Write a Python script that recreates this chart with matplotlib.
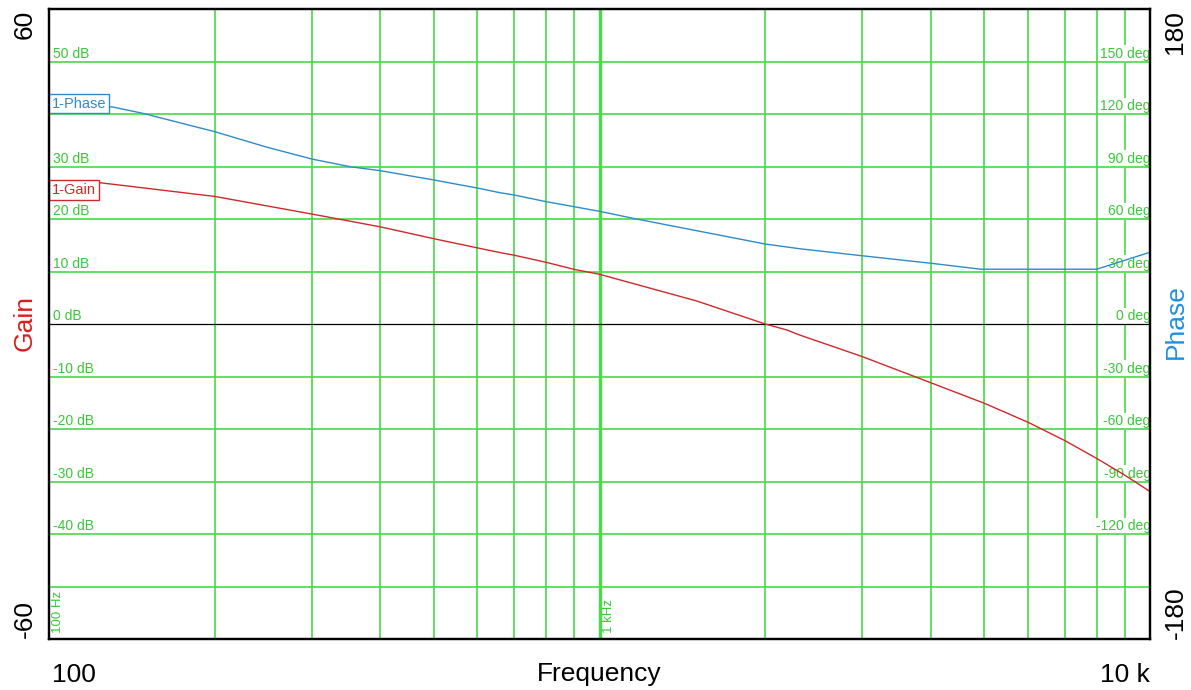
import matplotlib
matplotlib.use('Agg')
import matplotlib.pyplot as plt
from matplotlib import transforms

plt.rcParams['font.family'] = ['Liberation Sans', 'DejaVu Sans']

# ---------------- data ----------------
gain_freq = [100, 124, 200, 300, 400, 500, 600, 660, 700, 800, 900, 1000,
             1500, 2000, 2190, 2310, 3000, 4000, 5000, 6000, 7000, 8000, 9000, 10000]
gain_db = [27.2, 26.9, 24.3, 20.95, 18.5, 16.25, 14.5, 13.6, 13.1, 11.75, 10.4, 9.47,
           4.4, 0.0, -1.14, -2.1, -6.2, -11.2, -15.1, -18.7, -22.2, -25.6, -28.8, -31.9]

phase_freq = [100, 130.5, 148, 200, 249, 300, 352, 400, 500, 600, 660, 700, 800,
              900, 1000, 1150, 2000, 2310, 3000, 4000, 4930, 8000, 10000]
phase_deg = [126.5, 124.0, 120.4, 109.9, 101.0, 94.3, 89.9, 87.6, 82.3, 77.7, 75.0, 73.7, 69.9,
             67.0, 64.4, 60.4, 45.7, 43.0, 39.0, 34.7, 31.3, 31.3, 41.0]

gain_grid = [-50, -40, -30, -20, -10, 10, 20, 30, 40, 50]
freq_grid = [200, 300, 400, 500, 600, 700, 800, 900,
             2000, 3000, 4000, 5000, 6000, 7000, 8000, 9000]
gain_label_vals = [50, 30, 20, 10, 0, -10, -20, -30, -40]
gain_label_txt = ['50 dB', '30 dB', '20 dB', '10 dB', '0 dB', '-10 dB', '-20 dB', '-30 dB', '-40 dB']
phase_label_vals = [150, 120, 90, 60, 30, 0, -30, -60, -90, -120]
phase_label_txt = ['150 deg', '120 deg', '90 deg', '60 deg', '30 deg', '0 deg',
                   '-30 deg', '-60 deg', '-90 deg', '-120 deg']
freq_marks = [100, 1000]
freq_marks_txt = ['100 Hz', '1 kHz']

# ---------------- style ----------------
GRID = '#45DC45'
LBL = '#38C838'
RED = '#D02828'
BLUE = '#2E8BCB'

W, H = 1191, 690
fig = plt.figure(figsize=(W / 100, H / 100), dpi=100)
fig.patch.set_facecolor('white')

def fx(px):
    return px / W

def fy(py):
    return 1 - py / H

ax = fig.add_axes([fx(49), fy(639), (1150 - 49) / W, 630 / H])
ax.set_xscale('log')
ax.set_xlim(100, 10000)
ax.set_ylim(-60, 60)
ax2 = ax.twinx()
ax2.set_ylim(-180, 180)
for a in (ax, ax2):
    a.xaxis.set_major_locator(plt.NullLocator())
    a.xaxis.set_minor_locator(plt.NullLocator())
    a.yaxis.set_major_locator(plt.NullLocator())
    a.yaxis.set_minor_locator(plt.NullLocator())
    a.tick_params(which='both', length=0, labelleft=False, labelright=False, labelbottom=False)
    for s in a.spines.values():
        s.set_linewidth(1.6)
        s.set_color('black')
        s.set_zorder(10)

# vertical grid
for f in freq_grid:
    ax.axvline(f, color=GRID, lw=1.2, zorder=1)
ax.axvline(1000, color=GRID, lw=2.4, zorder=1)

# labels on grid (white background)
bb = dict(boxstyle='square,pad=0.12', fc='white', ec='none')
left_tr = transforms.offset_copy(ax.get_yaxis_transform(), fig=fig, x=3.0, y=2.6, units='points')
for v, t in zip(gain_label_vals, gain_label_txt):
    ax.text(0.0, v, t, transform=left_tr, ha='left', va='baseline', color=LBL,
            fontsize=10, bbox=bb, zorder=2)

right_base = transforms.blended_transform_factory(ax.transAxes, ax2.transData)
right_tr = transforms.offset_copy(right_base, fig=fig, x=0.5, y=2.6, units='points')
for v, t in zip(phase_label_vals, phase_label_txt):
    ax.text(1.0, v, t, transform=right_tr, ha='right', va='baseline', color=LBL,
            fontsize=10, bbox=bb, zorder=2, clip_on=True)

# frequency markers (vertical text)
bot_tr = transforms.offset_copy(ax.get_xaxis_transform(), fig=fig, x=2.5, y=4.0, units='points')
for f, t in zip(freq_marks, freq_marks_txt):
    ax.text(f, 0.0, t, transform=bot_tr, rotation=90, ha='left', va='bottom',
            color=LBL, fontsize=9.5, zorder=2)

# horizontal grid
for g in gain_grid:
    ax.axhline(g, color=GRID, lw=1.2, zorder=3)
ax.axhline(0, color='black', lw=0.9, zorder=3)

# traces
ax.plot(gain_freq, gain_db, color=RED, lw=1.0, zorder=4)
ax2.plot(phase_freq, phase_deg, color=BLUE, lw=1.0, zorder=4)

# trace labels
ax.text(0.0027, 0.7127, '1-Gain', transform=ax.transAxes, ha='left', va='center',
        color=RED, fontsize=10.5, zorder=6,
        bbox=dict(boxstyle='square,pad=0.2', fc='white', ec=RED, lw=1.0))
ax2.text(0.0027, 0.85, '1-Phase', transform=ax2.transAxes, ha='left', va='center',
         color=BLUE, fontsize=10.5, zorder=6,
         bbox=dict(boxstyle='square,pad=0.2', fc='white', ec=BLUE, lw=1.0))

# axis titles / extreme values
FS = 19
fig.text(fx(25), fy(10), '60', rotation=90, ha='center', va='top', fontsize=FS)
fig.text(fx(25), fy(638), '-60', rotation=90, ha='center', va='bottom', fontsize=FS)
fig.text(fx(25), fy(323), 'Gain', rotation=90, ha='center', va='center', fontsize=FS, color='#E01A1A')
fig.text(fx(1175), fy(10), '180', rotation=90, ha='center', va='top', fontsize=FS)
fig.text(fx(1176), fy(639), '-180', rotation=90, ha='center', va='bottom', fontsize=FS)
fig.text(fx(1176), fy(322), 'Phase', rotation=90, ha='center', va='center', fontsize=FS, color='#1E8FE0')
fig.text(fx(52), fy(681.5), '100', ha='left', va='baseline', fontsize=FS)
fig.text(fx(599.5), fy(681.5), 'Frequency', ha='center', va='baseline', fontsize=FS)
fig.text(fx(1150), fy(681.5), '10 k', ha='right', va='baseline', fontsize=FS)

fig.savefig('out.png', dpi=100, facecolor='white')
